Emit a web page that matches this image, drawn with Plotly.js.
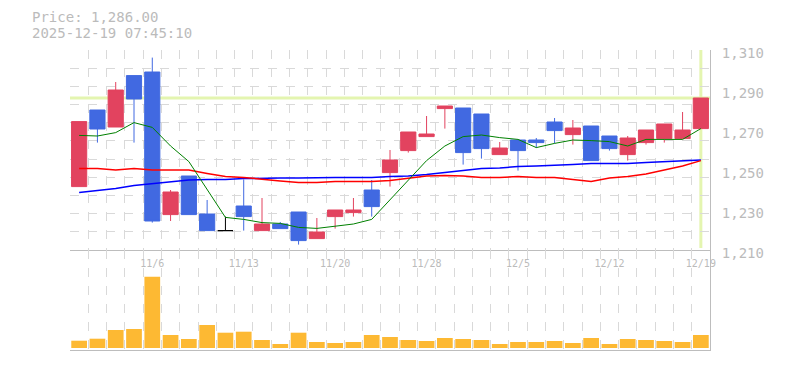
<!DOCTYPE html>
<html><head><meta charset="utf-8">
<script src="https://cdn.plot.ly/plotly-3.0.1.min.js"></script>
<style>html,body{margin:0;padding:0;background:#fff}</style>
</head><body><div id="chart" style="width:785px;height:370px"></div>
<script>
const dates = ['10/30','10/31','11/4','11/5','11/6','11/7','11/10','11/11','11/12','11/13','11/14',
  '11/17','11/18','11/19','11/20','11/21','11/25','11/26','11/27','11/28',
  '12/1','12/2','12/3','12/4','12/5','12/8','12/9','12/10','12/11','12/12',
  '12/15','12/16','12/17','12/18','12/19'];
const openP  = [1241.7,1280,1271.5,1297.2,1299,1227.7,1247,1228,1219.7,1232,1219.7,
  1223,1229,1215.7,1226.7,1228.7,1240,1248.7,1259.7,1266.7,
  1280.7,1281,1278,1257.7,1265,1265,1274,1267.7,1272,1267,
  1257.7,1263.7,1265.7,1265.7,1270.7];
const highP  = [1274.2,1280,1294,1297.2,1306.2,1240,1247,1235,1226.7,1245.3,1236,
  1224,1229,1226,1230,1236,1245,1260,1269,1277,
  1282,1281,1278,1264,1265,1266,1276,1275,1272,1267,
  1267,1270,1273,1279,1286];
const lowP   = [1241.7,1263.7,1271.5,1263.7,1223.7,1224.5,1227.7,1219.7,1219.7,1219.7,1219.7,
  1220.7,1212.7,1215.7,1220.7,1226.7,1226.7,1241.7,1258.7,1266.7,
  1270.7,1252.7,1255.7,1257.7,1249.7,1261,1263.3,1262.7,1254.7,1259.7,
  1254.7,1262.7,1263.7,1265.7,1270.7];
const closeP = [1274.2,1270.5,1290,1285.5,1224.5,1239,1227.7,1219.7,1219.7,1226.7,1223,
  1220.7,1214.7,1219,1230,1230,1231.7,1255,1269,1268,
  1282,1258.7,1260.7,1261,1259.7,1263.7,1269.7,1271,1254.7,1260.7,
  1266,1270,1273,1270,1286];
const volume = [73,93,180,190,713,130,90,230,153,163,80,
  40,153,60,50,60,130,110,80,70,
  100,90,80,40,60,60,70,50,100,40,
  90,80,70,60,130];
const ma5  = [1267.3,1267,1268.7,1273.7,1271.3,1262,1254.2,1240,1226.3,1225.3,1223.7,
  1223.3,1221.3,1220.8,1222,1223,1225.3,1235,1245,1254.7,
  1262,1266.7,1267.5,1266.2,1265.3,1261.2,1263.3,1265,1264.7,1264.2,
  1262,1265.3,1265.3,1265.3,1270.7];
const ma25 = [1250.7,1250.7,1250,1250.8,1250,1250,1250,1248.3,1246.7,1246.3,1245.3,
  1244.5,1243.7,1243.7,1244.2,1244.2,1244.2,1244.7,1246,1247,
  1247.3,1247,1246.3,1246.3,1246.7,1246.3,1246.3,1245.3,1244.3,1246,
  1246.7,1248,1250,1252,1254.7];
const ma75 = [1238.8,1239.7,1240.8,1242.3,1243.3,1244.3,1245,1245.3,1245.3,1245.7,1246,
  1246,1246,1246.3,1246.3,1246.3,1246.3,1246.7,1247,1247.7,
  1248.8,1250,1250.8,1251,1251.7,1252,1252.3,1252.8,1253.3,1253.3,
  1253.3,1253.8,1254.2,1254.7,1255];
const tickDates = ['11/6','11/13','11/20','11/28','12/5','12/12','12/19'];
const priceTicks = [1210,1230,1250,1270,1290,1310];
const lastPrice = 1286;
const stamp = '2025-12-19 07:45:10';

const idx = dates.map((d,i)=>i);
const isDoji = i => openP[i] === closeP[i];
const sel = (arr, f) => idx.filter(f).map(i => arr[i]);
const notDoji = i => !isDoji(i);

const RED = '#e2435f', BLUE = '#4169e1';
const xr = [-0.5, dates.length - 0.5];

const traces = [
  // empty helper traces so the overlay axes (date labels / horizontal grid) are drawn
  {type:'scatter', mode:'lines', x:[], y:[], xaxis:'x3', yaxis:'y', hoverinfo:'skip', showlegend:false},
  {type:'scatter', mode:'lines', x:[], y:[], xaxis:'x', yaxis:'y3', hoverinfo:'skip', showlegend:false},
  {type:'candlestick', x: sel(idx, notDoji), open: sel(openP, notDoji), high: sel(highP, notDoji),
   low: sel(lowP, notDoji), close: sel(closeP, notDoji), xaxis:'x', yaxis:'y',
   increasing:{line:{color:RED,width:1}, fillcolor:RED},
   decreasing:{line:{color:BLUE,width:1}, fillcolor:BLUE},
   whiskerwidth:0, hoverinfo:'skip', showlegend:false},
  {type:'candlestick', x: sel(idx, isDoji), open: sel(openP, isDoji), high: sel(highP, isDoji),
   low: sel(lowP, isDoji), close: sel(closeP, isDoji), xaxis:'x', yaxis:'y',
   increasing:{line:{color:'#000',width:1}, fillcolor:'#000'},
   decreasing:{line:{color:'#000',width:1}, fillcolor:'#000'},
   whiskerwidth:0, hoverinfo:'skip', showlegend:false},
  {type:'scatter', mode:'lines', x: idx, y: ma75, xaxis:'x', yaxis:'y', line:{color:'#0000ff', width:1.5}, hoverinfo:'skip', showlegend:false},
  {type:'scatter', mode:'lines', x: idx, y: ma25, xaxis:'x', yaxis:'y', line:{color:'#ff0000', width:1.5}, hoverinfo:'skip', showlegend:false},
  {type:'scatter', mode:'lines', x: idx, y: ma5, xaxis:'x', yaxis:'y', line:{color:'#008000', width:1}, hoverinfo:'skip', showlegend:false},
  {type:'bar', x: idx, y: volume, xaxis:'x2', yaxis:'y2', marker:{color:'#fdb933', line:{width:0}}, hoverinfo:'skip', showlegend:false}
];

const GRID = '#d9d9d9', FRAME = '#bdbdbd', TXT = '#bbbbbb';
const layout = {
  width:785, height:370,
  margin:{l:70, r:75, t:50, b:20, pad:0},
  paper_bgcolor:'#fff', plot_bgcolor:'#fff',
  font:{family:'DejaVu Sans Mono', color:TXT},
  boxgap:0.17, boxgroupgap:0, bargap:0.14,
  showlegend:false,
  xaxis:{domain:[0,1], anchor:'y', range:xr, tickmode:'linear', tick0:-0.5, dtick:1,
    showgrid:true, gridcolor:GRID, griddash:'dash', gridwidth:1, showticklabels:false, ticks:'',
    showline:true, linecolor:FRAME, linewidth:1, zeroline:false, rangeslider:{visible:false}, fixedrange:true},
  xaxis3:{overlaying:'x', anchor:'y', side:'bottom', range:xr, tickmode:'array',
    tickvals: tickDates.map(d => dates.indexOf(d)), ticktext: tickDates,
    showgrid:false, ticks:'', showline:false, zeroline:false, tickfont:{size:10, color:TXT},
    ticklabelstandoff:6, fixedrange:true},
  xaxis2:{domain:[0,1], anchor:'y2', range:xr, tickmode:'linear', tick0:-0.5, dtick:1,
    showgrid:true, gridcolor:GRID, griddash:'dash', showticklabels:false, ticks:'',
    showline:true, linecolor:FRAME, linewidth:1, zeroline:false, fixedrange:true},
  yaxis:{domain:[1/3,1], anchor:'x', range:[priceTicks[0], priceTicks[priceTicks.length-1]], side:'right',
    tickmode:'array', tickvals:priceTicks, tickformat:',d', showgrid:false, ticks:'',
    showline:true, linecolor:FRAME, linewidth:1, zeroline:false,
    tickfont:{size:14, color:TXT}, ticklabelshift:3, ticklabelstandoff:8, fixedrange:true},
  yaxis3:{overlaying:'y', anchor:'x', side:'left', range:[0,11], tickmode:'linear', tick0:0, dtick:1,
    showgrid:true, gridcolor:GRID, griddash:'dash', showticklabels:false, ticks:'', zeroline:false, showline:false, fixedrange:true},
  yaxis2:{domain:[0,1/3], anchor:'x2', range:[-20,980], side:'right', showgrid:false, showticklabels:false,
    ticks:'', showline:true, linecolor:FRAME, linewidth:1, zeroline:false, fixedrange:true},
  shapes:[
    {type:'line', layer:'below', xref:'x domain', yref:'y', x0:0, x1:1, y0:lastPrice, y1:lastPrice,
     line:{color:'#e4f5b0', width:3}},
    {type:'line', layer:'below', xref:'x', yref:'y domain', x0:dates.length-1, x1:dates.length-1, y0:0.01, y1:1,
     line:{color:'#e4f5b0', width:3}}
  ],
  annotations:[
    {xref:'paper', yref:'paper', x:-40/640, y:(350-17)/300, xanchor:'left', yanchor:'middle', showarrow:false,
     text:'Price: ' + lastPrice.toLocaleString('en-US',{minimumFractionDigits:2}), font:{size:14, color:TXT, family:'DejaVu Sans Mono'}},
    {xref:'paper', yref:'paper', x:-40/640, y:(350-33)/300, xanchor:'left', yanchor:'middle', showarrow:false,
     text: stamp, font:{size:14, color:TXT, family:'DejaVu Sans Mono'}}
  ]
};
Plotly.newPlot('chart', traces, layout, {displayModeBar:false, staticPlot:true});
</script>
</body></html>
